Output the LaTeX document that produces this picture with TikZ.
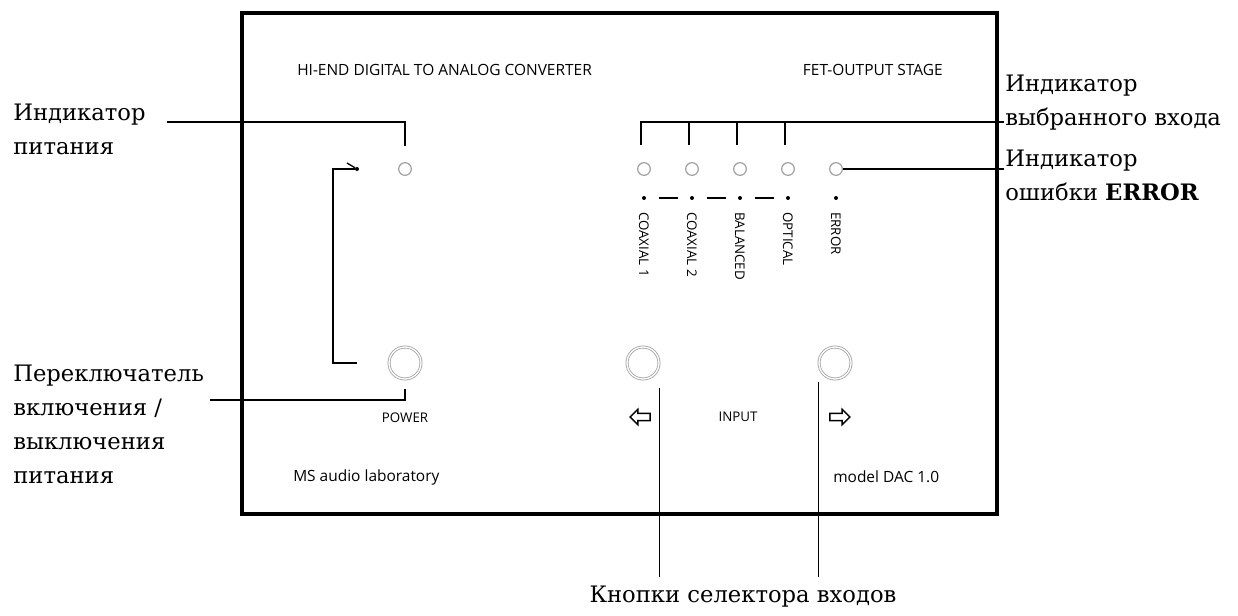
\documentclass[tikz,border=0pt]{standalone}
\usepackage{fontspec}
\setmainfont{DejaVu Serif}
\newfontfamily\panelfont{Open Sans}
\usetikzlibrary{positioning,calc,shapes.geometric,shapes.arrows}

\tikzset{
  panel/.style={line width=3pt},
  callout/.style={line width=1.3pt},
  led/.style={draw=gray!75, circle, line width=0.9pt, minimum size=9.5pt, inner sep=0pt},
  knob/.style={draw=gray!75, circle, double, double distance=1pt, line width=0.6pt, minimum size=24pt, inner sep=0pt},
  dot/.style={fill, circle, minimum size=3pt, inner sep=0pt},
  paneltext/.style={font=\panelfont\fontsize{11.6}{13}\selectfont, inner sep=0pt},
  tinytext/.style={font=\panelfont\fontsize{10}{12}\selectfont, inner sep=0pt},
  note/.style={font=\fontsize{17}{25.5}\selectfont, align=left, inner sep=0pt},
  hollow/.style={draw, single arrow, line width=1.1pt, minimum height=15pt, single arrow head extend=3pt, inner sep=2.2pt},
}

\begin{document}
\begin{tikzpicture}[x=0.75pt, y=-0.75pt]

	\useasboundingbox (0,0) rectangle (1238,615);

	% front panel
	\draw[panel] (242,13) rectangle (997,514);

	\node[paneltext, anchor=west] (title) at (297,70) {HI-END DIGITAL TO ANALOG CONVERTER};
	\node[paneltext, anchor=east] (stage) at (943,70) {FET-OUTPUT STAGE};

	% indicators
	\node[led] (pled) at (405,169) {};
	\foreach \n/\x/\t in {c1/644/COAXIAL 1, c2/692/COAXIAL 2, bal/740/BALANCED, opt/788/OPTICAL, err/836/ERROR} {
		\node[led] (\n) at (\x,169) {};
		\node[dot] (d\n) at (\x,198) {};
		\node[tinytext, rotate=-90, anchor=west] (l\n) at (\x,212) {\t};
	}
	\draw[callout, shorten <=9.5pt, shorten >=9pt] (dc1) -- (dc2);
	\draw[callout, shorten <=9.5pt, shorten >=9pt] (dc2) -- (dbal);
	\draw[callout, shorten <=9.5pt, shorten >=9pt] (dbal) -- (dopt);

	% buttons
	\node[knob] (power) at (405,363) {};
	\node[knob] (prev) at (643,363) {};
	\node[knob] (next) at (835,363) {};

	\node[tinytext] (powertxt) at (405,418) {POWER};
	\node[tinytext] (inputtxt) at (738,417) {INPUT};
	\node[hollow, shape border rotate=180] (larr) at (642,417) {};
	\node[hollow] (rarr) at (838,417) {};

	\node[paneltext, anchor=west] (maker) at (293,477) {MS audio laboratory};
	\node[paneltext, anchor=west] (model) at (833,477) {model DAC 1.0};

	% power switch mark
	\node[dot] (swdot) at (357,169) {};
	\coordinate (swend) at (357,363);
	\draw[callout] (swend) -| ($(swdot)+(-24,0)$) -- (swdot);
	\draw[line width=1pt] (swdot) -- ++(-10,-6);

	% labels
	\node[note, anchor=north west] (pledlbl) at (13,104) {Индикатор\\питания};
	\node[note, anchor=north west] (pwrlbl) at (13,365) {Переключатель\\включения /\\выключения\\питания};
	\node[note, anchor=north west] (sellbl) at (1005,75) {Индикатор\\выбранного входа};
	\node[note, anchor=north west] (errlbl) at (1005,150) {Индикатор\\ошибки \textbf{ERROR}};
	\node[note] (btnlbl) at (743,597) {Кнопки селектора входов};

	\coordinate (pledend) at (167,122);
	\coordinate (pwrend) at (210,400);
	\coordinate (selend) at (1004,122);
	\coordinate (errend) at (1004,169);

	\draw[callout] (pledend) -| ($(pled.north)+(0,-16)$);
	\draw[callout] (pwrend) -| ($(power.south)+(0,10)$);
	\draw[callout] ($(c1.north)+(-3,-17)$) |- (selend);
	\foreach \n in {c2,bal,opt}
		\draw[callout] ($(\n.north)+(-3,-17)$) -- ++(0,-23);
	\draw[callout] (err.east) -- (errend);
	\draw[callout] ([yshift=-18.75pt]prev.east) -- ([yshift=7pt]prev.east |- btnlbl.north);
	\draw[callout] ([yshift=-14pt]next.west) -- ([yshift=7pt]next.west |- btnlbl.north);

\end{tikzpicture}
\end{document}
